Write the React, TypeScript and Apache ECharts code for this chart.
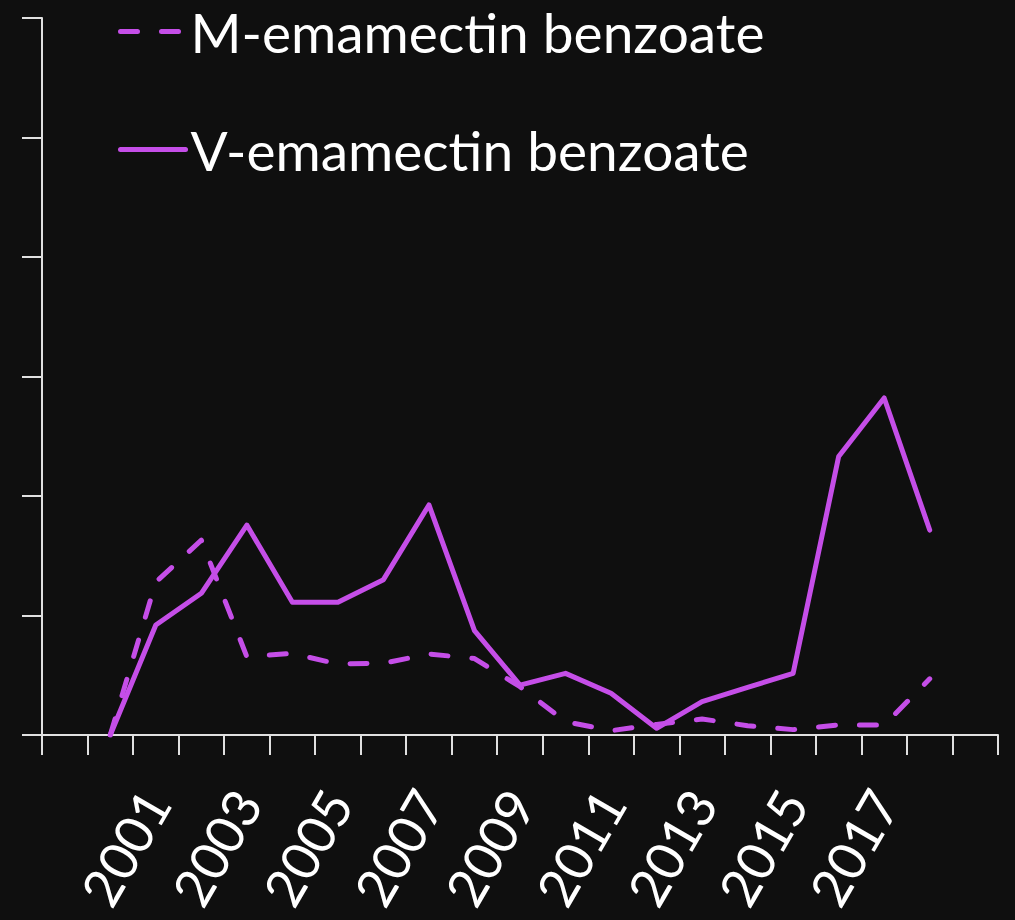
import React, { useEffect, useRef } from "react";
import * as echarts from "echarts";

const years = [
  "1999", "2000", "2001", "2002", "2003", "2004", "2005", "2006", "2007", "2008",
  "2009", "2010", "2011", "2012", "2013", "2014", "2015", "2016", "2017", "2018", "2019",
];
const mEmamectin = [null, 0, 12.8, 16.3, 6.55, 6.83, 5.94, 6.0, 6.78, 6.4, 4.04, 1.12, 0.36, 0.89, 1.34, 0.78, 0.45, 0.84, 0.84, 4.7, null];
const vEmamectin = [null, 0, 9.2, 11.86, 17.57, 11.1, 11.1, 13.0, 19.25, 8.73, 4.18, 5.16, 3.49, 0.56, 2.79, 3.99, 5.16, 23.3, 28.2, 17.15, null];
const labeledYears = ["2001", "2003", "2005", "2007", "2009", "2011", "2013", "2015", "2017"];

const PURPLE = "#c54ee8";
const AXIS = "#e0e0e0";
const FONT = "Lato";

export default function App() {
  const ref = useRef<HTMLDivElement>(null);
  useEffect(() => {
    if (!ref.current) return;
    const chart = echarts.init(ref.current, null, { renderer: "svg" });
    chart.setOption({
      animation: false,
      backgroundColor: "#0f0f0f",
      grid: { left: 42, right: 17, top: 18, bottom: 185, containLabel: false, outerBoundsMode: "none" },
      legend: {
        orient: "vertical",
        left: 118,
        top: 4,
        padding: 0,
        itemWidth: 65,
        itemHeight: 14,
        itemGap: 63,
        data: [
          { name: "M-emamectin benzoate", itemStyle: { opacity: 0 } },
          { name: "V-emamectin benzoate", itemStyle: { opacity: 0 } },
        ],
        lineStyle: { width: 5, cap: "round" },
        textStyle: {
          color: "#ffffff",
          fontFamily: FONT,
          fontSize: 55,
          lineHeight: 54,
        },
      },
      xAxis: {
        type: "category",
        data: years,
        boundaryGap: true,
        axisLine: { lineStyle: { color: AXIS, width: 2 } },
        axisTick: { show: true, interval: 0, length: 20, lineStyle: { color: AXIS, width: 2 } },
        axisLabel: {
          interval: (_i: number, v: string) => labeledYears.includes(v),
          rotate: 60,
          margin: 59,
          color: "#ffffff",
          fontFamily: FONT,
          fontSize: 53,
        },
        splitLine: { show: false },
      },
      yAxis: {
        type: "value",
        min: 0,
        max: 60,
        interval: 10,
        axisLine: { show: true, lineStyle: { color: AXIS, width: 2 } },
        axisTick: { show: true, length: 20, lineStyle: { color: AXIS, width: 2 } },
        axisLabel: { show: false },
        splitLine: { show: false },
      },
      series: [
        {
          name: "M-emamectin benzoate",
          type: "line",
          data: mEmamectin,
          symbol: "none",
          lineStyle: { color: PURPLE, width: 5, type: [17, 24], cap: "round", join: "round" },
          itemStyle: { color: PURPLE },
        },
        {
          name: "V-emamectin benzoate",
          type: "line",
          data: vEmamectin,
          symbol: "none",
          lineStyle: { color: PURPLE, width: 5, cap: "round", join: "round" },
          itemStyle: { color: PURPLE },
        },
      ],
    });
    return () => chart.dispose();
  }, []);
  return <div ref={ref} style={{ width: 1015, height: 920, position: "absolute", left: 0, top: 0 }} />;
}
